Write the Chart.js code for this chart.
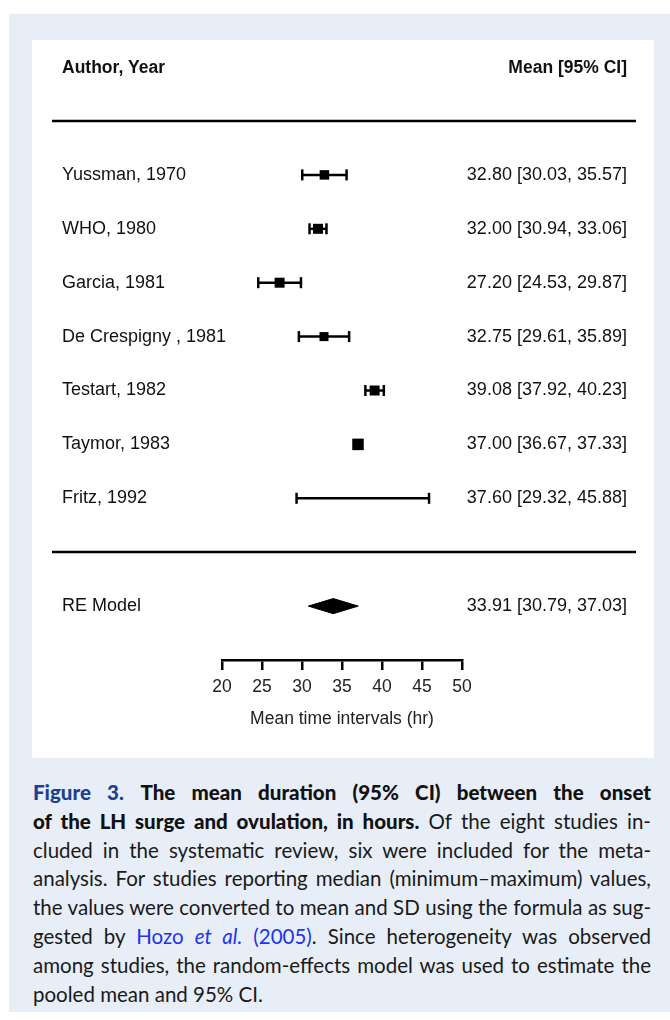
<!DOCTYPE html>
<html>
<head>
<meta charset="utf-8">
<script src="https://cdn.jsdelivr.net/npm/chart.js@4/dist/chart.umd.min.js"></script>
<style>
  html, body { margin: 0; padding: 0; background: #ffffff; }
  body { width: 670px; height: 1020px; position: relative; overflow: hidden; }
  #outer { position: absolute; left: 9px; top: 14px; width: 661px; height: 998px; background: #e7eef8; }
  #panel { position: absolute; left: 32px; top: 40px; width: 622px; height: 718px; background: #ffffff; }
  #caption { position: absolute; left: 33px; top: 778px; width: 618px; font-family: Lato, "Open Sans", sans-serif; font-size: 20.5px; line-height: 28.8px; color: #1a1a1a; }
  #caption .ln { text-align: justify; text-align-last: justify; white-space: nowrap; }
  #caption .last { text-align: left; white-space: nowrap; }
  #caption b { font-weight: 900; color: #111; }
  #caption .fig { color: #1d3f8f; font-weight: 900; }
  #caption .ref { color: #2233ee; }
</style>
</head>
<body>
<div id="outer"></div>
<div id="panel"><canvas id="c"></canvas></div>
<div id="caption">
  <div class="ln"><span class="fig">Figure 3.</span> <b>The mean duration (95% CI) between the onset</b></div>
  <div class="ln"><b>of the LH surge and ovulation, in hours.</b> Of the eight studies in-</div>
  <div class="ln">cluded in the systematic review, six were included for the meta-</div>
  <div class="ln">analysis. For studies reporting median (minimum–maximum) values,</div>
  <div class="ln">the values were converted to mean and SD using the formula as sug-</div>
  <div class="ln">gested by <span class="ref">Hozo <i>et al.</i> (2005)</span>. Since heterogeneity was observed</div>
  <div class="ln">among studies, the random-effects model was used to estimate the</div>
  <div class="last">pooled mean and 95% CI.</div>
</div>
<script>
// ---- data ----
const studies = ["Yussman, 1970", "WHO, 1980", "Garcia, 1981", "De Crespigny , 1981", "Testart, 1982", "Taymor, 1983", "Fritz, 1992"];
const means = [32.80, 32.00, 27.20, 32.75, 39.08, 37.00, 37.60];
const lower = [30.03, 30.94, 24.53, 29.61, 37.92, 36.67, 29.32];
const upper = [35.57, 33.06, 29.87, 35.89, 40.23, 37.33, 45.88];
const markerWeight = [19, 20, 20, 18, 20, 23, 3];   // relative study weights (box size)
const pooledLabel = "RE Model";
const pooledMean = 33.91;
const pooledLower = 30.79;
const pooledUpper = 37.03;
const xTicks = [20, 25, 30, 35, 40, 45, 50];
const headerLeft = "Author, Year";
const headerRight = "Mean [95% CI]";
const xTitle = "Mean time intervals (hr)";

// ---- derived ----
const fmt = v => v.toFixed(2);
const ciText = (m, l, u) => fmt(m) + " [" + fmt(l) + ", " + fmt(u) + "]";
const nStudies = studies.length;
const pooledRow = nStudies + 1;
const rows = studies.map((_, i) => i).concat([pooledRow]);
const leftLabels = {}; const rightLabels = {};
studies.forEach((s, i) => { leftLabels[i] = s; rightLabels[i] = ciText(means[i], lower[i], upper[i]); });
leftLabels[pooledRow] = pooledLabel;
rightLabels[pooledRow] = ciText(pooledMean, pooledLower, pooledUpper);

const TXT = "#111111";
const FONT = "'Liberation Sans', Arial, sans-serif";
const FS = 18;
const LEFT_W = 160, RIGHT_W = 165;
const diamondHalf = 0.14; // half-height of the summary diamond, in row units

const ciDatasets = studies.map((s, i) => ({
  type: 'scatter', showLine: true, data: [{x: lower[i], y: i}, {x: upper[i], y: i}],
  borderColor: '#000', borderWidth: 2.5, pointRadius: 0, yAxisID: 'y'
}));
const capData = [];
studies.forEach((s, i) => { capData.push({x: lower[i], y: i}); capData.push({x: upper[i], y: i}); });

const headerPlugin = {
  id: 'forestDecor',
  afterDraw(chart) {
    const ctx = chart.ctx, y = chart.scales.y, yR = chart.scales.y2;
    const lx = y.left, rx = yR.right;
    ctx.save();
    ctx.fillStyle = TXT;
    ctx.font = "bold 17.5px " + FONT;
    ctx.textBaseline = 'middle';
    const hy = y.getPixelForValue(-2) + 1;
    ctx.textAlign = 'left'; ctx.fillText(headerLeft, lx, hy);
    ctx.textAlign = 'right'; ctx.fillText(headerRight, rx, hy);
    ctx.strokeStyle = '#000'; ctx.lineWidth = 2.5;
    [-1, nStudies].forEach(r => {
      const py = Math.round(y.getPixelForValue(r));
      ctx.beginPath(); ctx.moveTo(lx - 10, py); ctx.lineTo(rx + 9, py); ctx.stroke();
    });
    ctx.restore();
  }
};

const yCommon = {
  type: 'linear', reverse: true, min: -1, max: pooledRow + 1,
  grid: { display: false }, border: { display: false },
  afterBuildTicks: sc => { sc.ticks = rows.map(v => ({ value: v })); },
};

new Chart(document.getElementById('c'), {
  type: 'scatter',
  data: {
    datasets: [
      ...ciDatasets,
      { type: 'scatter', data: capData, pointStyle: 'line', rotation: 90, pointRadius: 5.5,
        borderColor: '#000', pointBorderWidth: 2.5, borderWidth: 2.5, backgroundColor: '#000', yAxisID: 'y' },
      { type: 'scatter', data: means.map((m, i) => ({x: m, y: i})), pointStyle: 'rect',
        pointRadius: markerWeight.map(w => w * 0.5 / Math.SQRT2),
        backgroundColor: '#000', borderColor: '#000', borderWidth: 0, yAxisID: 'y' },
      { type: 'line', data: [
          {x: pooledLower, y: pooledRow}, {x: pooledMean, y: pooledRow - diamondHalf},
          {x: pooledUpper, y: pooledRow}, {x: pooledMean, y: pooledRow + diamondHalf},
          {x: pooledLower, y: pooledRow}],
        fill: 'shape', backgroundColor: '#000', borderColor: '#000', borderWidth: 1,
        pointRadius: 0, tension: 0, yAxisID: 'y' }
    ]
  },
  options: {
    responsive: true, maintainAspectRatio: false, animation: false,
    layout: { padding: { left: 30, right: 27, top: 81, bottom: 24 } },
    plugins: { legend: { display: false }, tooltip: { enabled: false } },
    scales: {
      x: {
        type: 'linear', position: 'bottom', min: xTicks[0], max: xTicks[xTicks.length - 1],
        afterBuildTicks: sc => { sc.ticks = xTicks.map(v => ({ value: v })); },
        afterFit: sc => { sc.height = 74; },
        grid: { drawOnChartArea: false, drawTicks: true, tickLength: 10, color: '#000', lineWidth: 2.5 },
        border: { display: true, color: '#000', width: 2.5 },
        ticks: { color: '#222', font: { family: FONT, size: 17.5 }, padding: 7, maxRotation: 0 },
        title: { display: true, text: xTitle, color: '#222', font: { family: FONT, size: 17.5 }, padding: { top: 2, bottom: 4 } }
      },
      y: Object.assign({}, yCommon, {
        position: 'left',
        afterFit: sc => { sc.width = LEFT_W; },
        // mirrored labels are not clipped to the axis box; shift them back to the panel's left margin
        ticks: { mirror: true, padding: -LEFT_W, autoSkip: false, color: TXT, font: { family: FONT, size: FS },
                 callback: v => leftLabels[v] ?? '' }
      }),
      y2: Object.assign({}, yCommon, {
        position: 'right',
        afterFit: sc => { sc.width = RIGHT_W; },
        ticks: { crossAlign: 'far', autoSkip: false, color: TXT, font: { family: FONT, size: FS },
                 callback: v => rightLabels[v] ?? '' }
      })
    }
  },
  plugins: [headerPlugin]
});
</script>
</body>
</html>
